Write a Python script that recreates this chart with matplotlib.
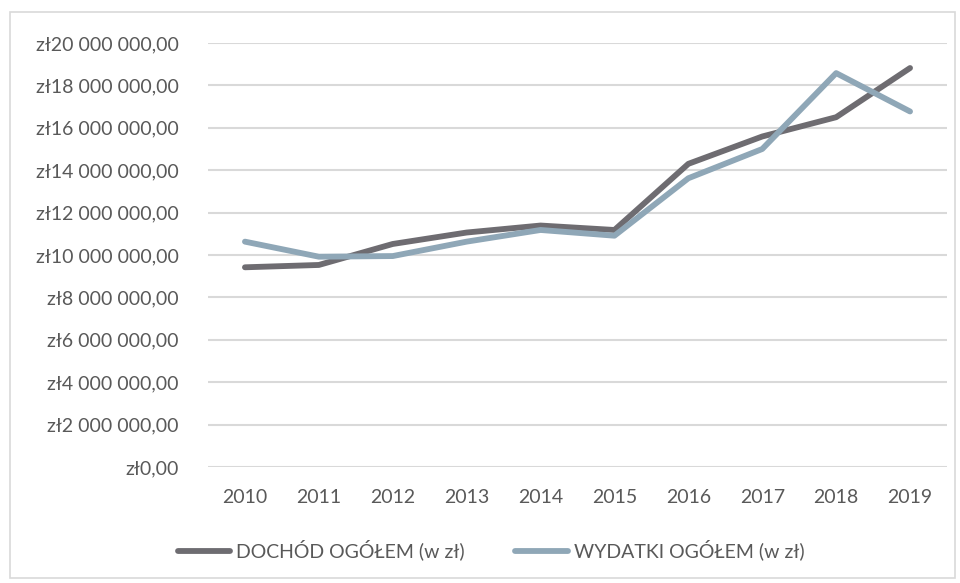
import matplotlib
matplotlib.use("Agg")
import matplotlib.pyplot as plt
from matplotlib.ticker import FuncFormatter, MultipleLocator
from matplotlib.patches import Rectangle

years = ["2010", "2011", "2012", "2013", "2014", "2015", "2016", "2017", "2018", "2019"]
dochod = [9.42e6, 9.53e6, 10.52e6, 11.06e6, 11.39e6, 11.18e6, 14.30e6, 15.59e6, 16.50e6, 18.82e6]
wydatki = [10.63e6, 9.92e6, 9.95e6, 10.63e6, 11.18e6, 10.91e6, 13.62e6, 15.00e6, 18.58e6, 16.77e6]
series_names = ["DOCHÓD OGÓŁEM (w zł)", "WYDATKI OGÓŁEM (w zł)"]

plt.rcParams['font.family'] = ['Lato', 'DejaVu Sans']

fig = plt.figure(figsize=(9.6, 5.83), dpi=100)
fig.patch.set_facecolor("white")
# outer chart border
fig.patches.append(Rectangle((10/960, 5/583), 945/960, 566/583, transform=fig.transFigure,
                             fill=False, edgecolor="#d9d9d9", linewidth=1.2))

ax = fig.add_axes([208/960, (583-467)/583, (947-208)/960, (467-43)/583])
x = list(range(len(years)))
c1 = "#6e6c71"
c2 = "#8fa7b7"
ax.plot(x, dochod, color=c1, linewidth=4.2, solid_capstyle="round", label=series_names[0], zorder=3)
ax.plot(x, wydatki, color=c2, linewidth=4.2, solid_capstyle="round", label=series_names[1], zorder=4)

ax.set_xlim(-0.5, len(years) - 0.5)
ax.set_ylim(0, 20e6)
ax.yaxis.set_major_locator(MultipleLocator(2e6))

def fmt(v, pos):
    s = f"{v:,.2f}".replace(",", " ").replace(".", ",")
    return "zł" + s

ax.yaxis.set_major_formatter(FuncFormatter(fmt))
ax.set_xticks(x)
ax.set_xticklabels(years)
ax.grid(axis="y", color="#d9d9d9", linewidth=1.5, zorder=0)
ax.set_axisbelow(True)
for s in ax.spines.values():
    s.set_visible(False)
ax.tick_params(axis="both", length=0, colors="#595959", labelsize=14)
ax.tick_params(axis="y", pad=21)
ax.tick_params(axis="x", pad=16)

leg = fig.legend(loc="center", bbox_to_anchor=(491/960, (583-550)/583), ncol=2, frameon=False,
                 fontsize=14, handlelength=2.7, handletextpad=0.3, columnspacing=2.6)
for t in leg.get_texts():
    t.set_color("#595959")

fig.savefig("out.png", dpi=100, facecolor="white")
